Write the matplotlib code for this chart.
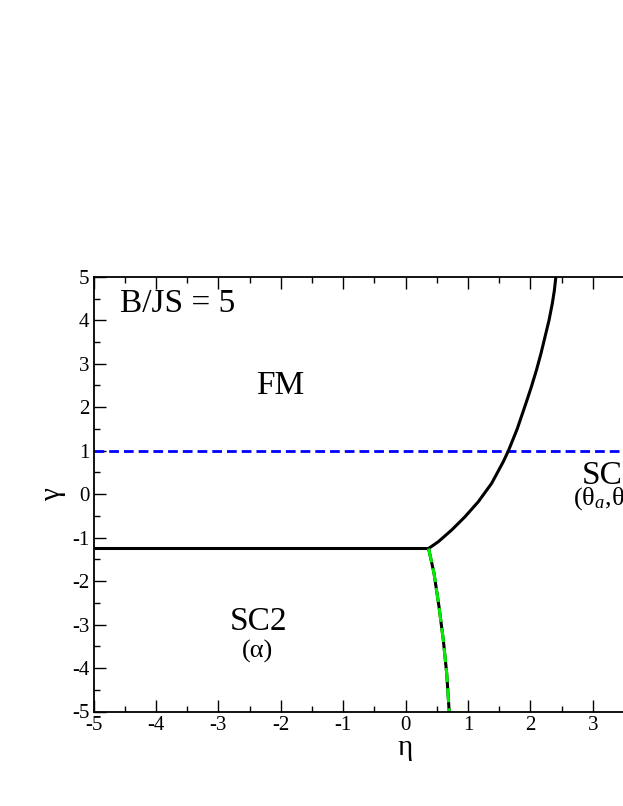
import matplotlib
matplotlib.use("Agg")
import matplotlib.pyplot as plt
from matplotlib.ticker import MultipleLocator

plt.rcParams['font.family'] = ['Liberation Serif', 'DejaVu Serif']
plt.rcParams['mathtext.fontset'] = 'custom'
plt.rcParams['mathtext.rm'] = 'Liberation Serif'
plt.rcParams['mathtext.it'] = 'Liberation Serif:italic'

# Data
flat_x = [-5.0, 0.37]
flat_y = [-1.25, -1.25]

upper_x = [0.37, 0.526, 0.740, 0.954, 1.167, 1.381, 1.567, 1.65, 1.79, 1.93, 2.015, 2.10, 2.17, 2.236, 2.30, 2.353, 2.385, 2.41]
upper_y = [-1.25, -1.094, -0.825, -0.519, -0.174, 0.25, 0.746, 1.0, 1.50, 2.09, 2.46, 2.86, 3.23, 3.62, 4.00, 4.39, 4.68, 5.0]

lower_x = [0.37, 0.457, 0.537, 0.606, 0.66, 0.70]
lower_y = [-1.25, -1.82, -2.59, -3.355, -4.12, -5.0]

blue_x = [-5.0, 5.0]
blue_y = [1.0, 1.0]

xticks = [-5, -4, -3, -2, -1, 0, 1, 2, 3, 4, 5]
yticks = [-5, -4, -3, -2, -1, 0, 1, 2, 3, 4, 5]

fig = plt.figure(figsize=(6.23, 8.06), dpi=100)
W, H = 623, 806
ax_left, ax_right, ax_top, ax_bot = 93.5, 717.5, 276.8, 711.5
ax = fig.add_axes([ax_left / W, 1 - ax_bot / H, (ax_right - ax_left) / W, (ax_bot - ax_top) / H])

ax.plot(blue_x, blue_y, color='#0000ff', lw=2.0, dashes=(3.5, 1.8))
ax.plot(flat_x, flat_y, color='black', lw=2.2, solid_capstyle='butt')
ax.plot(upper_x, upper_y, color='black', lw=2.2)
ax.plot(lower_x, lower_y, color='black', lw=2.2)
ax.plot(lower_x, lower_y, color='#00ee00', lw=2.2, dashes=(4.6, 2.0))

ax.set_xlim(-5, 5)
ax.set_ylim(-5, 5)
ax.set_xticks(xticks)
ax.set_yticks(yticks)
ax.set_xticklabels([str(t) for t in xticks])
ax.set_yticklabels([str(t) for t in yticks])
ax.xaxis.set_minor_locator(MultipleLocator(0.5))
ax.yaxis.set_minor_locator(MultipleLocator(0.5))
ax.tick_params(which='major', direction='in', length=8.6, width=1.0, top=True, right=True,
               labelsize=15, pad=3)
ax.tick_params(which='minor', direction='in', length=4.3, width=1.0, top=True, right=True)
for s in ax.spines.values():
    s.set_linewidth(1.3)

ax.set_xlabel('η', fontsize=21, labelpad=0)
ax.set_ylabel('γ', fontsize=21, labelpad=4)

ax.text(-4.58, 4.38, 'B/JS = 5', fontsize=24, ha='left', va='center')
ax.text(-2.01, 2.5, 'FM', fontsize=24, ha='center', va='center')
ax.text(-2.36, -2.94, 'SC2', fontsize=24, ha='center', va='center')
ax.text(-2.37, -3.62, '(α)', fontsize=19, ha='center', va='center')
ax.text(2.83, 0.42, 'SC1', fontsize=24, ha='left', va='center', clip_on=False)
ax.text(2.68, -0.11, r'(θ$_a$,θ$_b$)', fontsize=19, ha='left', va='center')

fig.savefig('out.png', dpi=100)
